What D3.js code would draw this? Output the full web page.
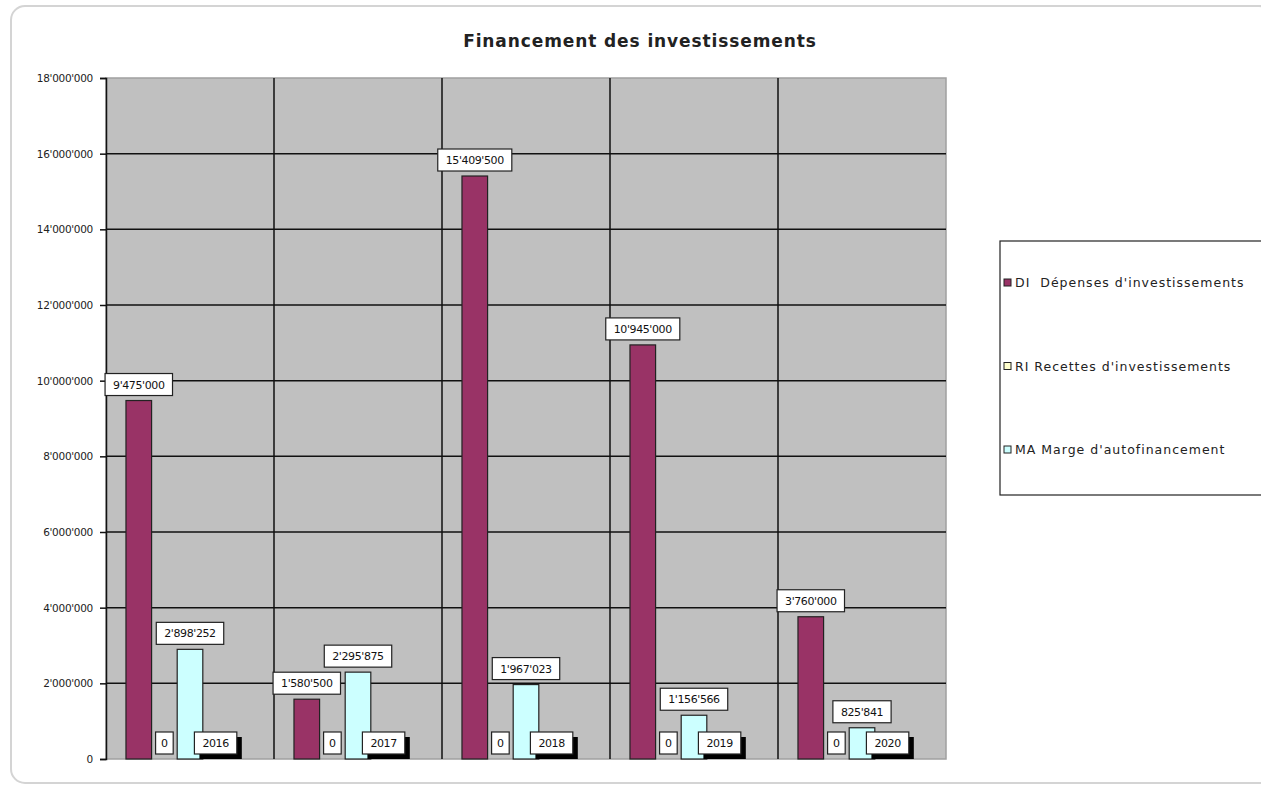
<!DOCTYPE html>
<html>
<head>
<meta charset="utf-8">
<script src="https://cdn.jsdelivr.net/npm/d3@7"></script>
<style>
  body { margin: 0; background: #fff; }
  svg { display: block; font-family: "DejaVu Sans", Verdana, sans-serif; }
</style>
</head>
<body>
<svg id="chart" width="1261" height="788"></svg>
<script>
// Chart data
var years = ["2016", "2017", "2018", "2019", "2020"];
var depenses = [9475000, 1580500, 15409500, 10945000, 3760000];
var recettes = [0, 0, 0, 0, 0];
var marge = [2898252, 2295875, 1967023, 1156566, 825841];
var yTicks = [0, 2000000, 4000000, 6000000, 8000000, 10000000, 12000000, 14000000, 16000000, 18000000];
var seriesNames = ["DI  Dépenses d'investissements", "RI Recettes d'investissements", "MA Marge d'autofinancement"];
var seriesColors = ["#993366", "#ffffcc", "#ccffff"];

var locale = d3.formatLocale({decimal: ".", thousands: "'", grouping: [3], currency: ["", ""]});
var fmt = locale.format(",d");

var svg = d3.select("#chart");

// outer frame
svg.append("rect")
  .attr("x", 11).attr("y", 6)
  .attr("width", 1262).attr("height", 777)
  .attr("rx", 14)
  .attr("fill", "#fff")
  .attr("stroke", "#d4d4d4")
  .attr("stroke-width", 2);

// title
svg.append("text")
  .attr("x", 640).attr("y", 47)
  .attr("text-anchor", "middle")
  .style("font-size", "17px")
  .style("font-weight", "bold")
  .attr("letter-spacing", "0.9px")
  .style("fill", "#222")
  .text("Financement des investissements");

var plot = {left: 106, right: 946, top: 78, bottom: 759};

var x0 = d3.scaleBand().domain(years).range([plot.left, plot.right]).padding(0);
// 5 slots per year: three series, the year label, one empty slot
var x1 = d3.scaleBand().domain(["DI", "RI", "MA", "AN", "-"])
  .range([0, x0.bandwidth()]).paddingInner(0).paddingOuter(0.78);
var y = d3.scaleLinear().domain([0, 18000000]).range([plot.bottom, plot.top]);

// plot background
svg.append("rect")
  .attr("x", plot.left).attr("y", plot.top)
  .attr("width", plot.right - plot.left).attr("height", plot.bottom - plot.top)
  .attr("fill", "#c0c0c0")
  .attr("stroke", "#a0a0a0")
  .attr("stroke-width", 1.5);

// horizontal gridlines
svg.append("g").selectAll("line")
  .data(yTicks.filter(function(d) { return d > 0 && d < 18000000; }))
  .enter().append("line")
  .attr("x1", plot.left).attr("x2", plot.right)
  .attr("y1", function(d) { return y(d); })
  .attr("y2", function(d) { return y(d); })
  .attr("stroke", "#111").attr("stroke-width", 1.5);

// vertical gridlines between years
svg.append("g").selectAll("line")
  .data(years.slice(1))
  .enter().append("line")
  .attr("x1", function(d) { return x0(d); })
  .attr("x2", function(d) { return x0(d); })
  .attr("y1", plot.top).attr("y2", plot.bottom)
  .attr("stroke", "#111").attr("stroke-width", 1.5);

// y axis
var yAxis = d3.axisLeft(y).tickValues(yTicks).tickFormat(fmt).tickSize(6).tickPadding(7);
var gy = svg.append("g").attr("transform", "translate(" + plot.left + ",0)").call(yAxis);
gy.select(".domain").attr("stroke", "#111").attr("stroke-width", 1.5);
gy.selectAll(".tick line").attr("stroke", "#111").attr("stroke-width", 1.5);
gy.selectAll("text").style("font-size", "10.5px").style("fill", "#222")
  .style("font-family", "'DejaVu Sans', sans-serif").attr("letter-spacing", "-0.3px");

// bars
var series = [
  {key: "DI", values: depenses, color: seriesColors[0]},
  {key: "RI", values: recettes, color: seriesColors[1]},
  {key: "MA", values: marge, color: seriesColors[2]}
];

series.forEach(function(s) {
  svg.append("g").selectAll("rect")
    .data(years)
    .enter().append("rect")
    .attr("x", function(d) { return x0(d) + x1(s.key); })
    .attr("y", function(d, i) { return y(s.values[i]); })
    .attr("width", x1.bandwidth())
    .attr("height", function(d, i) { return y(0) - y(s.values[i]); })
    .attr("fill", s.color)
    .attr("stroke", s.values.some(function(v) { return v > 0; }) ? "#222" : "none")
    .attr("stroke-width", 1.2);
});

// data labels (boxed)
function boxLabel(cx, bottom, txt, shadow) {
  var g = svg.append("g");
  var t = g.append("text")
    .attr("x", cx).attr("y", bottom - 7)
    .attr("text-anchor", "middle")
    .style("font-size", "11px")
    .attr("letter-spacing", "-0.4px")
    .style("fill", "#111")
    .text(txt);
  var w = t.node().getComputedTextLength() + (txt.length > 1 ? 16 : 11);
  var h = 22;
  if (shadow) {
    g.insert("rect", "text")
      .attr("x", cx - w / 2 + 5).attr("y", bottom - h + 5)
      .attr("width", w).attr("height", h)
      .attr("fill", "#000");
  }
  g.insert("rect", "text")
    .attr("x", cx - w / 2).attr("y", bottom - h)
    .attr("width", w).attr("height", h)
    .attr("fill", "#fff")
    .attr("stroke", "#222").attr("stroke-width", 1.2);
}

series.forEach(function(s) {
  years.forEach(function(yr, i) {
    boxLabel(x0(yr) + x1(s.key) + x1.bandwidth() / 2, y(s.values[i]) - 5, fmt(s.values[i]), false);
  });
});
years.forEach(function(yr) {
  boxLabel(x0(yr) + x1("AN") + x1.bandwidth() / 2, y(0) - 5, yr, true);
});

// legend
var lg = svg.append("g");
lg.append("rect")
  .attr("x", 1000).attr("y", 241)
  .attr("width", 300).attr("height", 254)
  .attr("fill", "#fff")
  .attr("stroke", "#222").attr("stroke-width", 1.2);

var legendY = d3.scalePoint().domain(seriesNames).range([283, 450]);
seriesNames.forEach(function(name, i) {
  var yy = legendY(name);
  lg.append("rect")
    .attr("x", 1004).attr("y", yy - 4)
    .attr("width", 7).attr("height", 7)
    .attr("fill", seriesColors[i])
    .attr("stroke", "#222").attr("stroke-width", 1);
  lg.append("text")
    .attr("x", 1015).attr("y", yy + 4)
    .style("font-size", "12.5px")
    .attr("letter-spacing", "1px")
    .style("fill", "#222")
    .style("white-space", "pre")
    .text(name);
});
</script>
</body>
</html>
